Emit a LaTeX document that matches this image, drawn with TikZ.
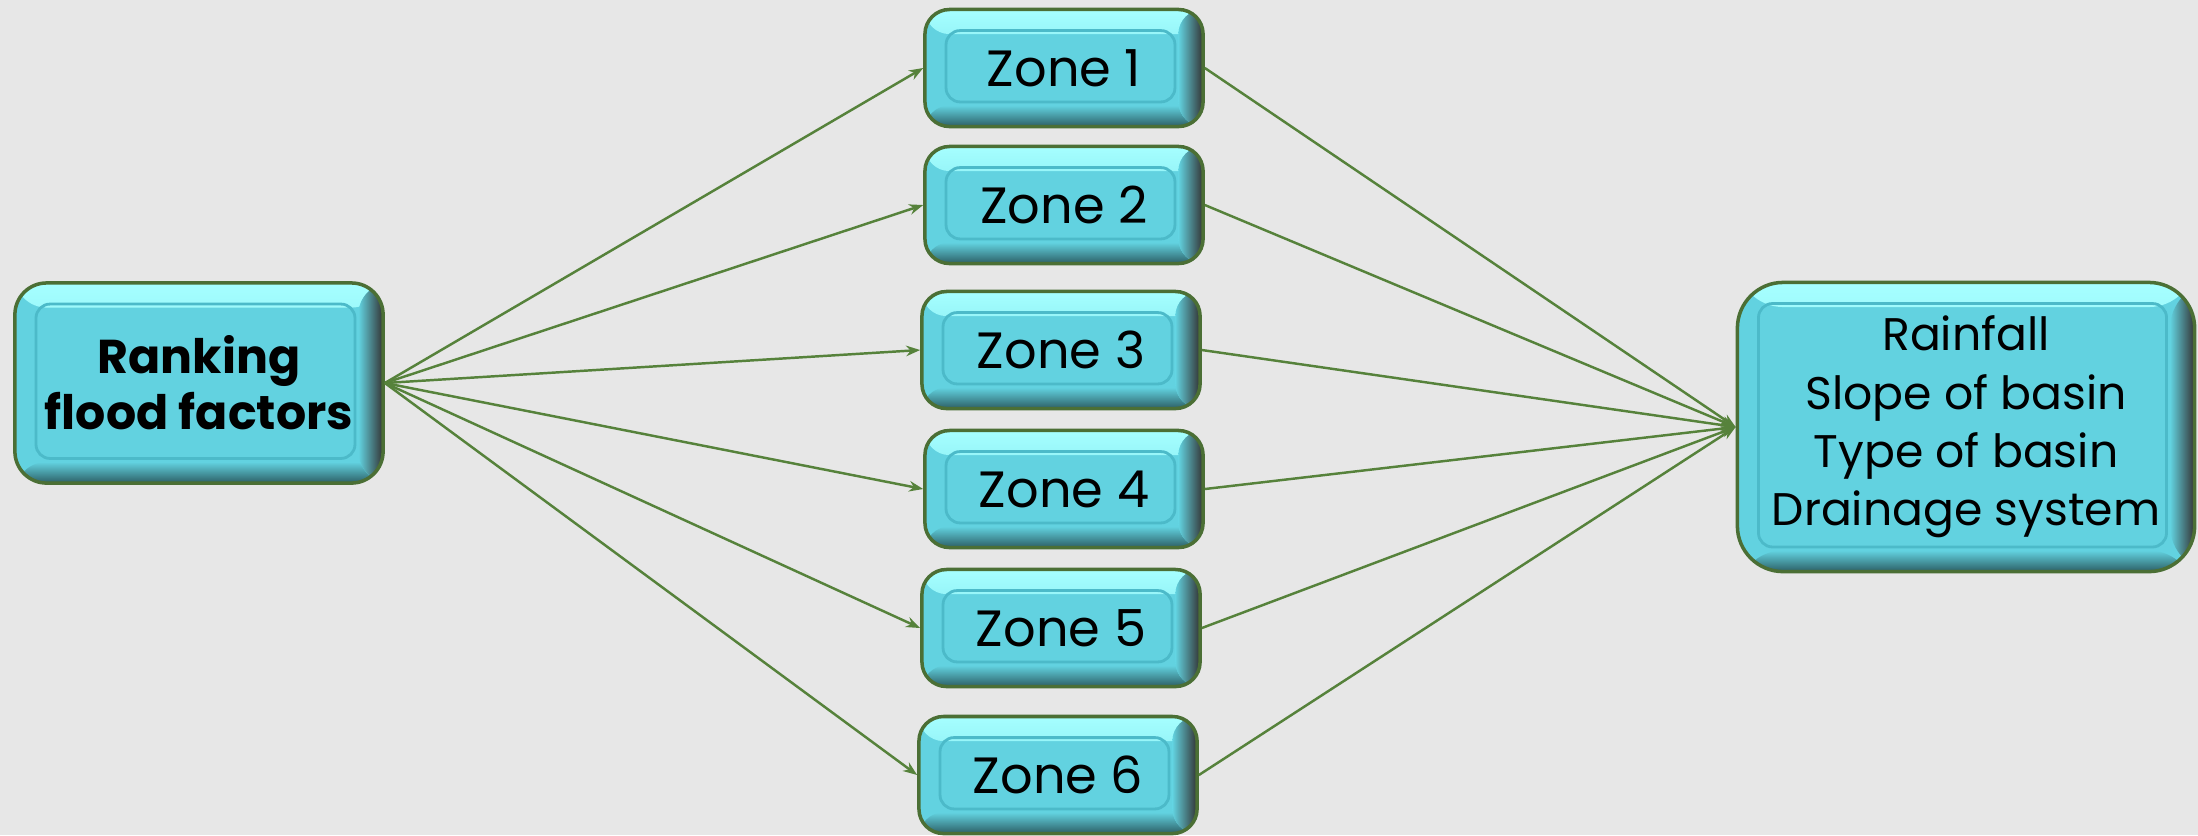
\documentclass[tikz,border=0pt]{standalone}
\usepackage{fontspec}
\setmainfont{Poppins}
\usetikzlibrary{arrows.meta}

\definecolor{bggray}{HTML}{E7E7E7}
\definecolor{boxcyan}{HTML}{62D2E0}
\definecolor{rimcyan}{HTML}{4CBAC9}
\definecolor{edgegreen}{HTML}{4B6F35}
\definecolor{linegreen}{HTML}{56823B}

\tikzstyle{bevel} = [path picture={
  \fill[top color=cyan!35!white, bottom color=boxcyan] (path picture bounding box.north west) rectangle ([yshift=-7pt]path picture bounding box.north east);
  \fill[top color=boxcyan, bottom color=boxcyan!45!black] ([yshift=6pt]path picture bounding box.south west) rectangle (path picture bounding box.south east);
  \fill[left color=boxcyan, right color=black!80] ([xshift=-7pt]path picture bounding box.north east) rectangle (path picture bounding box.south east);
  \draw[rimcyan, line width=0.8pt, rounded corners=4pt] ([shift={(6pt,-6pt)}]path picture bounding box.north west) rectangle ([shift={(-8pt,7pt)}]path picture bounding box.south east);
}]
\tikzstyle{zone} = [rectangle, rounded corners=7pt, draw=edgegreen, line width=1pt, fill=boxcyan, bevel, minimum width=2.78cm, minimum height=1.17cm, inner sep=0pt, text=black, font=\fontsize{14.5}{17}\selectfont]
\tikzstyle{rankbox} = [zone, rounded corners=9pt, minimum width=3.68cm, minimum height=2cm, align=center, font=\fontsize{13.5}{16}\selectfont\bfseries]
\tikzstyle{factorbox} = [zone, rounded corners=13pt, minimum width=4.57cm, minimum height=2.89cm, align=center, font=\fontsize{13}{16.6}\selectfont]
\tikzstyle{arrow} = [linegreen, line width=0.7pt, -{Stealth[length=4pt,width=3pt]}]

\begin{document}
\begin{tikzpicture}[x=0.01cm, y=-0.01cm]
\fill[bggray] (0,0) rectangle (2198,835);
\useasboundingbox (0,0) rectangle (2198,835);

\node (rank) [rankbox] at (199,383) {Ranking\\flood factors};
\node (z1) [zone] at (1064,68) {Zone 1};
\node (z2) [zone] at (1064,205) {Zone 2};
\node (z3) [zone] at (1061,350) {Zone 3};
\node (z4) [zone] at (1064,489) {Zone 4};
\node (z5) [zone] at (1061,628) {Zone 5};
\node (z6) [zone] at (1058,775) {Zone 6};
\node (factors) [factorbox] at (1966,427) {Rainfall\\Slope of basin\\Type of basin\\Drainage system};

\draw [arrow] (rank.east) -- (z1.west);
\draw [arrow] (rank.east) -- (z2.west);
\draw [arrow] (rank.east) -- (z3.west);
\draw [arrow] (rank.east) -- (z4.west);
\draw [arrow] (rank.east) -- (z5.west);
\draw [arrow] (rank.east) -- (z6.west);
\draw [arrow] (z1.east) -- (factors.west);
\draw [arrow] (z2.east) -- (factors.west);
\draw [arrow] (z3.east) -- (factors.west);
\draw [arrow] (z4.east) -- (factors.west);
\draw [arrow] (z5.east) -- (factors.west);
\draw [arrow] (z6.east) -- (factors.west);
\end{tikzpicture}
\end{document}
